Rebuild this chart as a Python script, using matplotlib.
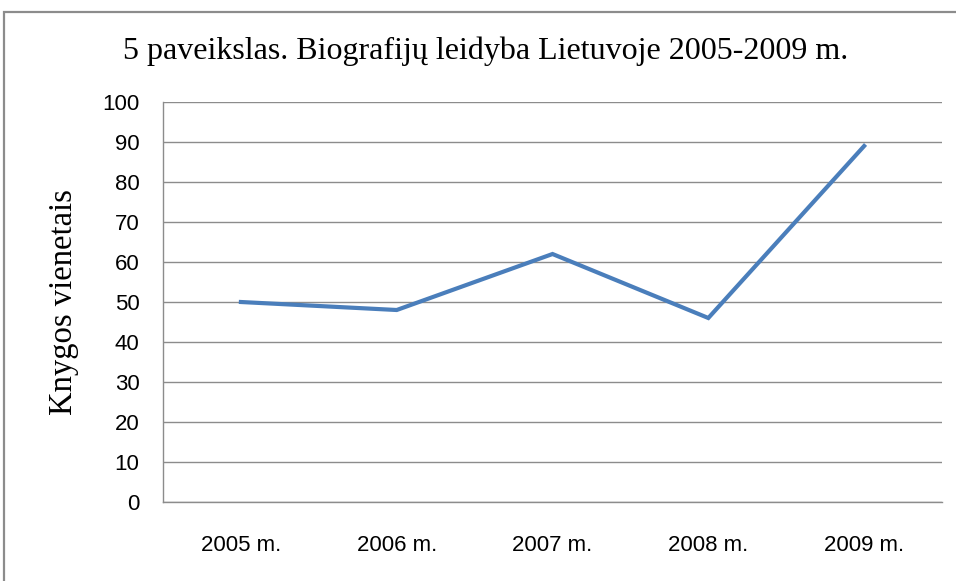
import matplotlib
matplotlib.use("Agg")
import matplotlib.pyplot as plt
from matplotlib.patches import Rectangle

# Duomenys
metai = ["2005 m.", "2006 m.", "2007 m.", "2008 m.", "2009 m."]
knygos = [50, 48, 62, 46, 89]
y_ticks = [0, 10, 20, 30, 40, 50, 60, 70, 80, 90, 100]

fig = plt.figure(figsize=(9.56, 5.81), dpi=100)
ax = fig.add_axes([0.1705, 0.136, 0.8149, 0.6884])

x = list(range(len(metai)))
ax.plot(x, knygos, color="#4A7EBB", linewidth=3.0, solid_joinstyle="miter")

ax.set_xlim(-0.5, len(metai) - 0.5)
ax.set_ylim(0, 100)
ax.set_yticks(y_ticks)
ax.set_xticks(x)
ax.set_xticklabels(metai)
ax.tick_params(axis="both", length=0, labelsize=16, colors="black")
ax.tick_params(axis="y", pad=17)
ax.tick_params(axis="x", pad=24)
for lab in ax.get_xticklabels() + ax.get_yticklabels():
    lab.set_family("Liberation Sans")

ax.grid(axis="y", color="#8c8c8c", linewidth=1.0)
ax.set_axisbelow(True)
for s in ["top", "right"]:
    ax.spines[s].set_visible(False)
for s in ["left", "bottom"]:
    ax.spines[s].set_color("#8c8c8c")
    ax.spines[s].set_linewidth(1.0)

ax.set_ylabel("Knygos vienetais", family="Liberation Serif", fontsize=23.5)
ax.yaxis.set_label_coords(-0.108, 0.5)
fig.text(0.508, 0.912, "5 paveikslas. Biografijų leidyba Lietuvoje 2005-2009 m.",
         family="Liberation Serif", fontsize=23, ha="center", va="center")

# remelis aplink diagrama
fig.patches.append(Rectangle((4 / 956, -0.05), 1.2, 1 - 12 / 581 + 0.05,
                             transform=fig.transFigure, fill=False,
                             edgecolor="#8c8c8c", linewidth=1.6))

fig.savefig("out.png", dpi=100)
